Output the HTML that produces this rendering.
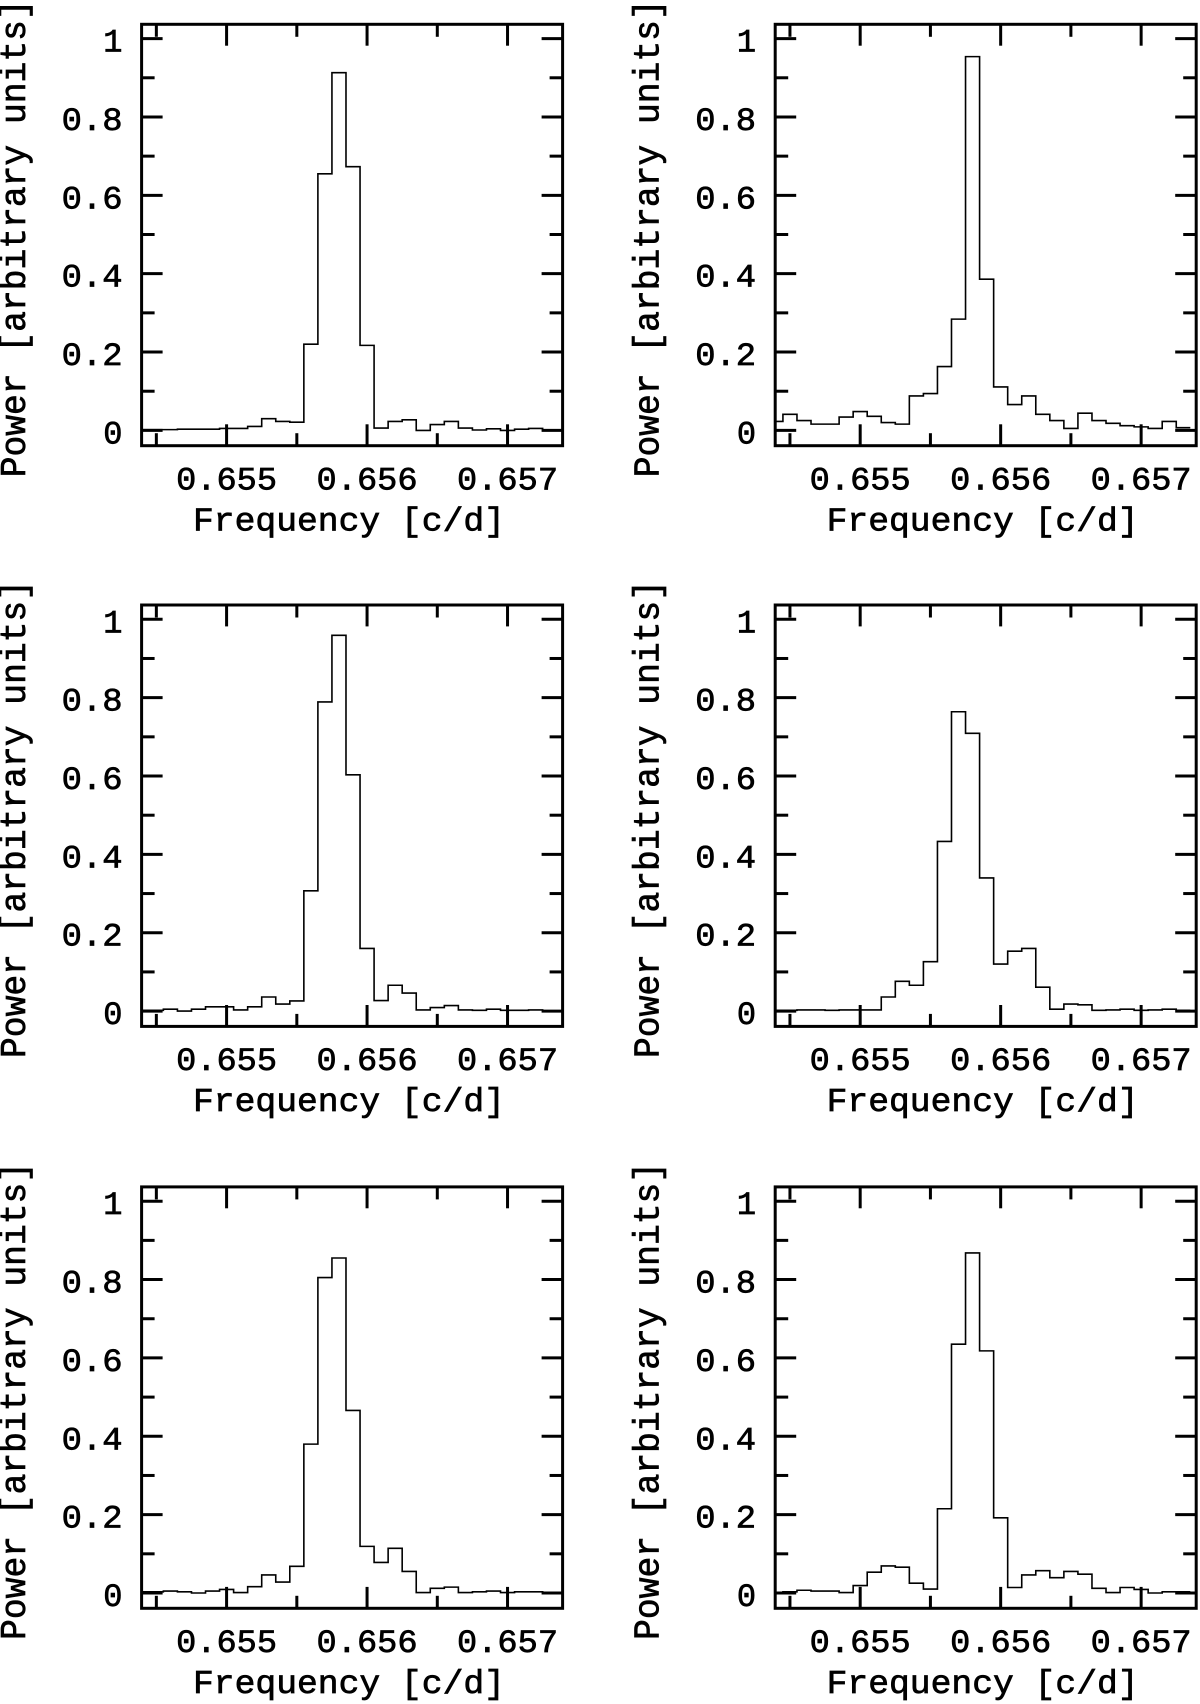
<!DOCTYPE html>
<html><head><meta charset="utf-8"><style>
html,body{margin:0;padding:0;background:#fff;}
svg{display:block;}
text{font-family:"Liberation Mono",monospace;fill:#000;stroke:#000;stroke-width:0.7;}
</style></head><body>
<svg id="fig" width="1200" height="1704" viewBox="0 0 1200 1704" xmlns="http://www.w3.org/2000/svg"></svg>
<script>
const freqs = [0.6544,0.6545,0.6546,0.6547,0.6548,0.6549,0.6550,0.6551,0.6552,0.6553,0.6554,0.6555,0.6556,0.6557,0.6558,0.6559,0.6560,0.6561,0.6562,0.6563,0.6564,0.6565,0.6566,0.6567,0.6568,0.6569,0.6570,0.6571,0.6572,0.6573];
const power1 = [0.002,0.002,0.002,0.003,0.003,0.003,0.005,0.005,0.010,0.030,0.023,0.021,0.220,0.655,0.913,0.673,0.217,0.006,0.023,0.027,0.000,0.015,0.023,0.006,0.001,0.004,0.000,0.003,0.005,0.000];
const power2 = [0.023,0.041,0.025,0.016,0.016,0.034,0.048,0.036,0.020,0.016,0.088,0.094,0.163,0.284,0.954,0.386,0.111,0.066,0.088,0.041,0.025,0.005,0.044,0.025,0.018,0.012,0.009,0.005,0.023,0.007];
const power3 = [0.002,0.002,0.005,0.000,0.005,0.011,0.011,0.003,0.011,0.036,0.018,0.026,0.307,0.789,0.959,0.603,0.160,0.027,0.066,0.046,0.003,0.009,0.014,0.003,0.002,0.005,0.002,0.002,0.003,0.000];
const power4 = [0.002,0.002,0.003,0.003,0.002,0.003,0.003,0.003,0.036,0.076,0.066,0.126,0.433,0.764,0.709,0.340,0.120,0.153,0.160,0.061,0.005,0.018,0.016,0.002,0.003,0.005,0.002,0.003,0.005,0.002];
const power5 = [0.003,0.003,0.005,0.003,0.000,0.005,0.009,0.001,0.016,0.046,0.028,0.068,0.380,0.805,0.855,0.466,0.119,0.078,0.114,0.055,0.001,0.012,0.015,0.001,0.003,0.005,0.001,0.003,0.003,0.001];
const power6 = [0.001,0.003,0.007,0.005,0.005,0.001,0.019,0.053,0.069,0.066,0.025,0.010,0.215,0.635,0.868,0.618,0.192,0.014,0.046,0.057,0.039,0.055,0.048,0.012,0.001,0.014,0.009,0.000,0.003,0.003];
const yTickLabels = ["0","0.2","0.4","0.6","0.8","1"];
const yTickValues = [0,0.2,0.4,0.6,0.8,1];
const xTickLabels = ["0.655","0.656","0.657"];
const xTickValues = [0.655,0.656,0.657];
const binWidth = 0.0001;

const NS="http://www.w3.org/2000/svg";
const svg=document.getElementById('fig');
function mk(tag,attrs,parent){const e=document.createElementNS(NS,tag);for(const k in attrs)e.setAttribute(k,attrs[k]);(parent||svg).appendChild(e);return e;}

const panels=[
 {data:power1,dx:0,dy:0},{data:power2,dx:633.6,dy:0},
 {data:power3,dx:0,dy:580.7},{data:power4,dx:633.6,dy:580.7},
 {data:power5,dx:0,dy:1162.6},{data:power6,dx:633.6,dy:1162.6}
];
const BL=141.6,BR=562.6,BT=24.3,BB=445.7;
const xmin=0.654395,xmax=0.657392;

panels.forEach((p,i)=>{
  const g=mk('g',{transform:`translate(${p.dx},${p.dy})`});
  
  
  const X=f=>BL+(f-xmin)/(xmax-xmin)*(BR-BL);
  const Y=v=>BT+406.1-391.8*v;
  const cp=mk('clipPath',{id:'clip'+i},g);
  mk('rect',{x:BL,y:BT,width:BR-BL,height:BB-BT},cp);
  let d='';
  p.data.forEach((v,k)=>{
    const x0=X(freqs[k]-binWidth/2),x1=X(freqs[k]+binWidth/2),y=Y(v);
    d+=(k===0?'M':'L')+x0.toFixed(2)+','+y.toFixed(2)+'L'+x1.toFixed(2)+','+y.toFixed(2);
  });
  const path=mk('path',{d:d,fill:'none',stroke:'#000','stroke-width':1.6,'clip-path':`url(#clip${i})`},g);
  
  
  const tk=mk('g',{stroke:'#000','stroke-width':3},g);
  
  
  for(let v=0;v<=1.0001;v+=0.1){
    const major=Math.abs(v*5-Math.round(v*5))<1e-6;
    const L=major?21:13,y=Y(v);
    mk('line',{x1:BL,y1:y,x2:BL+L,y2:y},tk);
    mk('line',{x1:BR,y1:y,x2:BR-L,y2:y},tk);
  }
  for(let f=0.6545;f<=0.65735;f+=0.0005){
    const major=Math.abs(f*1000-Math.round(f*1000))<1e-6;
    const L=major?21.4:12.5,x=X(f);
    mk('line',{x1:x,y1:BT,x2:x,y2:BT+L},tk);
    mk('line',{x1:x,y1:BB,x2:x,y2:BB-L},tk);
  }
  const box=mk('rect',{x:BL,y:BT,width:BR-BL,height:BB-BT,fill:'none',stroke:'#000','stroke-width':3},g);
  
  
  yTickValues.forEach((v,k)=>{
    const lab=yTickLabels[k];
    const a={x:122.5,y:Y(v)+13,'text-anchor':'end','font-size':32};
    if(lab.length>1){a.textLength=20.3*lab.length;a.lengthAdjust='spacingAndGlyphs';}
    const t=mk('text',a,g);
    t.textContent=lab;
    
    
  });
  xTickValues.forEach((v,k)=>{
    const t=mk('text',{x:X(v),y:BT+465,'text-anchor':'middle','font-size':32,textLength:101,lengthAdjust:'spacingAndGlyphs'},g);
    t.textContent=xTickLabels[k];
    
    
  });
  const xt=mk('text',{x:349,y:BT+506,'text-anchor':'middle','font-size':33,textLength:312,lengthAdjust:'spacingAndGlyphs'},g);
  xt.textContent='Frequency [c/d]';
  
  
  const yt=mk('text',{x:0,y:0,'text-anchor':'middle','font-size':36,textLength:478,lengthAdjust:'spacingAndGlyphs',transform:`translate(25,${BT+214}) rotate(-90)`},g);
  yt.textContent='Power [arbitrary units]';
  
  
});
</script>
</body></html>
